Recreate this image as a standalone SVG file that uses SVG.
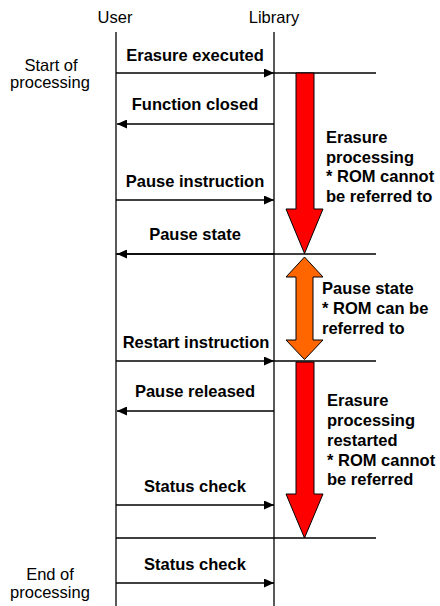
<svg xmlns="http://www.w3.org/2000/svg" width="440" height="606" viewBox="0 0 440 606">
<defs>
<style>
.t{font-family:"Liberation Sans",Arial,sans-serif;font-size:16.5px;fill:#000}
.b{font-weight:bold}
.c{text-anchor:middle}
.ln{stroke:#000;stroke-width:1.3;fill:none}
.red{fill:#FF0000;stroke:#000;stroke-width:1}
.org{fill:#FF6600;stroke:#000;stroke-width:1}
</style>
<marker id="ah" viewBox="0 0 10 9" refX="10" refY="4.5" markerWidth="10" markerHeight="9" markerUnits="userSpaceOnUse" orient="auto">
<path d="M0,0 L10,4.5 L0,9 Z" fill="#000"/>
</marker>
</defs>
<rect width="440" height="606" fill="#fff"/>
<g id="user">
<text class="t c" x="115" y="23">User</text>
<line class="ln" x1="116" y1="32" x2="116" y2="606"/>
</g>
<g id="library">
<text class="t c" x="274" y="23">Library</text>
<line class="ln" x1="274" y1="32" x2="274" y2="606"/>
</g>
<g id="start">
<text class="t c" x="51" y="71">Start of</text>
<text class="t c" x="50" y="87.5">processing</text>
</g>
<g id="end">
<text class="t c" x="50" y="579.5">End of</text>
<text class="t c" x="50" y="598">processing</text>
</g>
<g id="phase-lines">
<line class="ln" x1="274" y1="73" x2="376" y2="73"/>
<line class="ln" x1="116" y1="254" x2="376" y2="254"/>
<line class="ln" x1="274" y1="361" x2="376" y2="361"/>
<line class="ln" x1="116" y1="538" x2="376" y2="538"/>
</g>
<g id="connectors">
<line class="ln" x1="116" y1="73" x2="274" y2="73" marker-end="url(#ah)"/>
<line class="ln" x1="274" y1="124" x2="117" y2="124" marker-end="url(#ah)"/>
<line class="ln" x1="116" y1="200" x2="274" y2="200" marker-end="url(#ah)"/>
<line class="ln" x1="274" y1="254" x2="117" y2="254" marker-end="url(#ah)"/>
<line class="ln" x1="116" y1="361" x2="274" y2="361" marker-end="url(#ah)"/>
<line class="ln" x1="274" y1="411" x2="117" y2="411" marker-end="url(#ah)"/>
<line class="ln" x1="116" y1="505" x2="274" y2="505" marker-end="url(#ah)"/>
<line class="ln" x1="116" y1="583" x2="274" y2="583" marker-end="url(#ah)"/>
</g>
<g id="message-labels">
<text class="t b c" x="195" y="61">Erasure executed</text>
<text class="t b c" x="195" y="110">Function closed</text>
<text class="t b c" x="195" y="187">Pause instruction</text>
<text class="t b c" x="195" y="240">Pause state</text>
<text class="t b c" x="196" y="348">Restart instruction</text>
<text class="t b c" x="195" y="397">Pause released</text>
<text class="t b c" x="195" y="492">Status check</text>
<text class="t b c" x="195" y="569.5">Status check</text>
</g>
<g id="erasure-1">
<path class="red" d="M296,73 L314,73 L314,209 L323,209 L304.5,253.5 L286,209 L296,209 Z"/>
<text class="t b" x="326" y="143">Erasure</text>
<text class="t b" x="326" y="162.5">processing</text>
<text class="t b" x="326" y="182">* ROM cannot</text>
<text class="t b" x="326" y="201.5">be referred to</text>
</g>
<g id="pause">
<path class="org" d="M304.5,257 L323,277 L313,277 L313,340 L323,340 L304.5,359.5 L286,340 L296,340 L296,277 L286,277 Z"/>
<text class="t b" x="322" y="294">Pause state</text>
<text class="t b" x="322" y="314">* ROM can be</text>
<text class="t b" x="322" y="333.5">referred to</text>
</g>
<g id="erasure-2">
<path class="red" d="M296,362 L314,362 L314,494 L323,494 L304.5,538 L286,494 L296,494 Z"/>
<text class="t b" x="327" y="406">Erasure</text>
<text class="t b" x="327" y="426">processing</text>
<text class="t b" x="327" y="445.5">restarted</text>
<text class="t b" x="327" y="465.5">* ROM cannot</text>
<text class="t b" x="327" y="485">be referred</text>
</g>
</svg>
